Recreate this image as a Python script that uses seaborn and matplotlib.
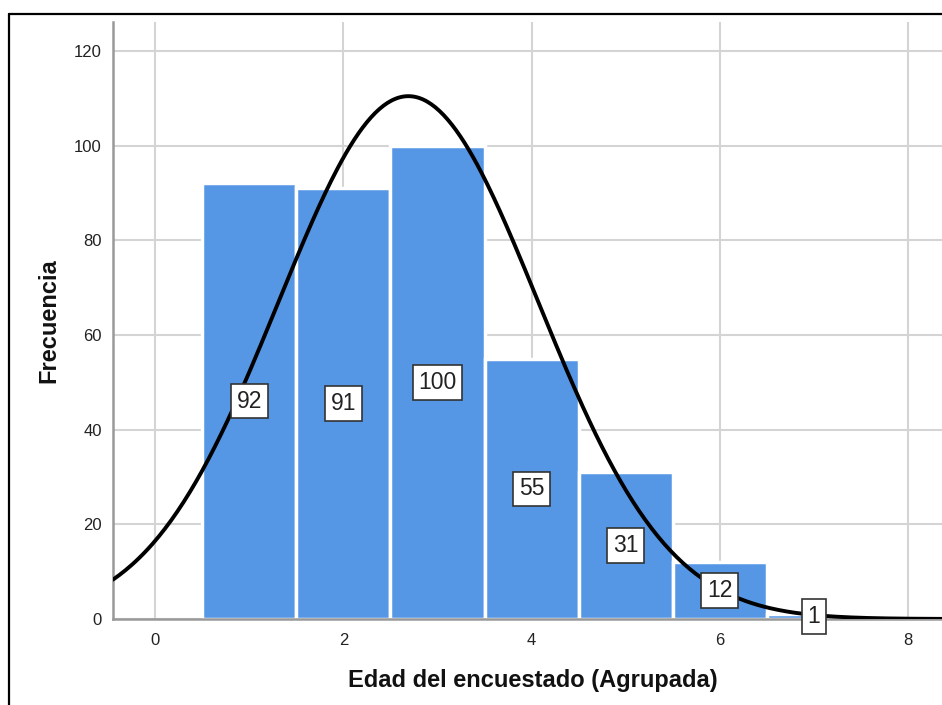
import numpy as np
import pandas as pd
import matplotlib
matplotlib.use("Agg")
import matplotlib.pyplot as plt
import seaborn as sns
from matplotlib.lines import Line2D

# Data
categories = [1, 2, 3, 4, 5, 6, 7]
counts = [92, 91, 100, 55, 31, 12, 1]
x_ticks = [0, 2, 4, 6, 8]
y_ticks = [0, 20, 40, 60, 80, 100, 120]
x_label = "Edad del encuestado (Agrupada)"
y_label = "Frecuencia"

sns.set_theme(style="white")
plt.rcParams['font.family'] = ['Liberation Sans', 'DejaVu Sans']

df = pd.DataFrame({"edad": categories, "freq": counts})

fig = plt.figure(figsize=(9.42, 7.05), dpi=100)
ax = fig.add_axes([113/942, 1 - 619/705, 1 - 113/942 + 0.001, (619 - 22)/705])

ax.set_xlim(-0.447, 8.37)
ax.set_ylim(0, 126.1)

# grid
ax.set_axisbelow(True)
ax.grid(True, color="#d4d4d4", linewidth=1.5)

bar_color = "#5596e5"
sns.histplot(data=df, x="edad", weights="freq", discrete=True, ax=ax,
             color=bar_color, alpha=1, edgecolor="white", linewidth=2.5, zorder=2)

# fitted normal curve from data
vals = np.repeat(categories, counts)
n = len(vals)
mu = vals.mean()
sd = vals.std(ddof=1)
xs = np.linspace(-0.447, 8.37, 400)
ys = n * 1.0 / (sd * np.sqrt(2 * np.pi)) * np.exp(-0.5 * ((xs - mu) / sd) ** 2)
sns.lineplot(x=xs, y=ys, ax=ax, color="black", linewidth=2.8, zorder=4)

# value labels
for c, v in zip(categories, counts):
    ax.text(c, v / 2, str(v), ha="center", va="center", fontsize=16.5,
            color="#222222", zorder=5,
            bbox=dict(boxstyle="square,pad=0.25", facecolor="white",
                      edgecolor="#333333", linewidth=1.2))

ax.set_xticks(x_ticks)
ax.set_yticks(y_ticks)
ax.set_xticklabels([str(t) for t in x_ticks], fontsize=12, color="#222222")
ax.set_yticklabels([str(t) for t in y_ticks], fontsize=12, color="#222222")
ax.tick_params(axis="x", length=0, pad=10)
ax.tick_params(axis="y", length=0, pad=8)

ax.set_xlabel(x_label, fontsize=17, fontweight="bold", color="#111111", labelpad=15)
ax.set_ylabel(y_label, fontsize=17, fontweight="bold", color="#111111", labelpad=10)
ax.xaxis.label.set_x(0.506)

for s in ["top", "right"]:
    ax.spines[s].set_visible(False)
for s in ["left", "bottom"]:
    ax.spines[s].set_color("#999999")
    ax.spines[s].set_linewidth(1.8)

# outer frame (left and top)
fig.add_artist(Line2D([8.5/942, 8.5/942], [0, 1 - 14/705], transform=fig.transFigure,
                      color="black", linewidth=1.6))
fig.add_artist(Line2D([8.5/942, 1], [1 - 14/705, 1 - 14/705], transform=fig.transFigure,
                      color="black", linewidth=1.6))

fig.savefig("out.png", dpi=100)
